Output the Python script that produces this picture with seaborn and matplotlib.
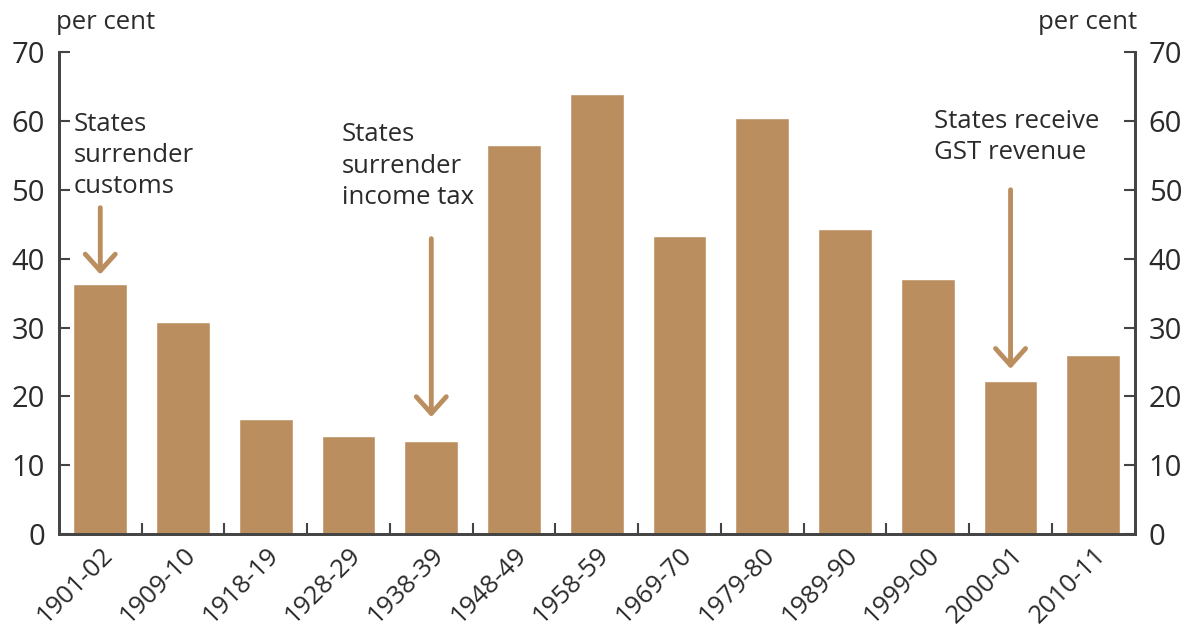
import numpy as np
import pandas as pd
import matplotlib
matplotlib.use("Agg")
from matplotlib import pyplot as plt
import seaborn as sns

years = ['1901-02', '1909-10', '1918-19', '1928-29', '1938-39', '1948-49',
         '1958-59', '1969-70', '1979-80', '1989-90', '1999-00', '2000-01', '2010-11']
share = [36.3, 30.8, 16.7, 14.2, 13.5, 56.5, 63.9, 43.3, 60.4, 44.3, 37.0, 22.2, 26.0]

notes = ['States\nsurrender\ncustoms', 'States\nsurrender\nincome tax',
         'States receive\nGST revenue']
note_pos = [(-0.32, 61.3), (2.92, 59.8), (10.07, 61.7)]
arrow_x = [0, 4, 11]
arrow_top = [47.8, 43.3, 50.4]
arrow_tip = [37.3, 16.6, 23.6]

bar_color = '#BB8E60'
ink = '#2b2b2b'
spine = '#444444'

sns.set_theme(style='white')
plt.rcParams['font.family'] = ['Open Sans', 'DejaVu Sans']

df = pd.DataFrame({'year': years, 'share': share})

fig = plt.figure(figsize=(12.02, 6.42), dpi=100)
ax = fig.add_axes([0.049, 0.168, 0.895, 0.751])
sns.barplot(data=df, x='year', y='share', color=bar_color, saturation=1,
            width=0.65, ax=ax)

ax.set_xlim(-0.5, len(years) - 0.5)
ax.set_ylim(0, 70)
ax.set_xlabel('')
ax.set_ylabel('')
ax.set_yticks(np.arange(0, 71, 10))

ax2 = ax.twinx()
ax2.set_ylim(0, 70)
ax2.set_yticks(np.arange(0, 71, 10))

for a in (ax, ax2):
    for s in a.spines.values():
        s.set_color(spine)
        s.set_linewidth(2)
    a.spines['top'].set_visible(False)
    a.tick_params(axis='y', direction='in', length=8, width=1.5, color=spine,
                  labelsize=21, labelcolor=ink, pad=10)

# x ticks sit between bars, labels at bar centres
ax.set_xticks(np.arange(len(years)))
ax.set_xticklabels(years, rotation=45, ha='right', rotation_mode='anchor')
ax.set_xticks(np.arange(len(years) - 1) + 0.5, minor=True)
ax.tick_params(axis='x', which='major', length=0, labelsize=18.5, labelcolor=ink, pad=6)
ax.tick_params(axis='x', which='minor', direction='in', length=8, width=1.5,
               color=spine, bottom=True)

fig.text(0.047, 0.965, 'per cent', fontsize=18.5, color=ink, ha='left', va='center')
fig.text(0.946, 0.965, 'per cent', fontsize=18.5, color=ink, ha='right', va='center')

for txt, (tx, ty) in zip(notes, note_pos):
    ax.text(tx, ty, txt, fontsize=18.5, color=ink, ha='left', va='top', linespacing=1.33)

for x, top, tip in zip(arrow_x, arrow_top, arrow_tip):
    ax.annotate('', xy=(x, tip), xytext=(x, top),
                arrowprops=dict(arrowstyle='->,head_length=1.0,head_width=0.9',
                                color=bar_color, lw=3.5))

fig.savefig('out.png', dpi=100)
